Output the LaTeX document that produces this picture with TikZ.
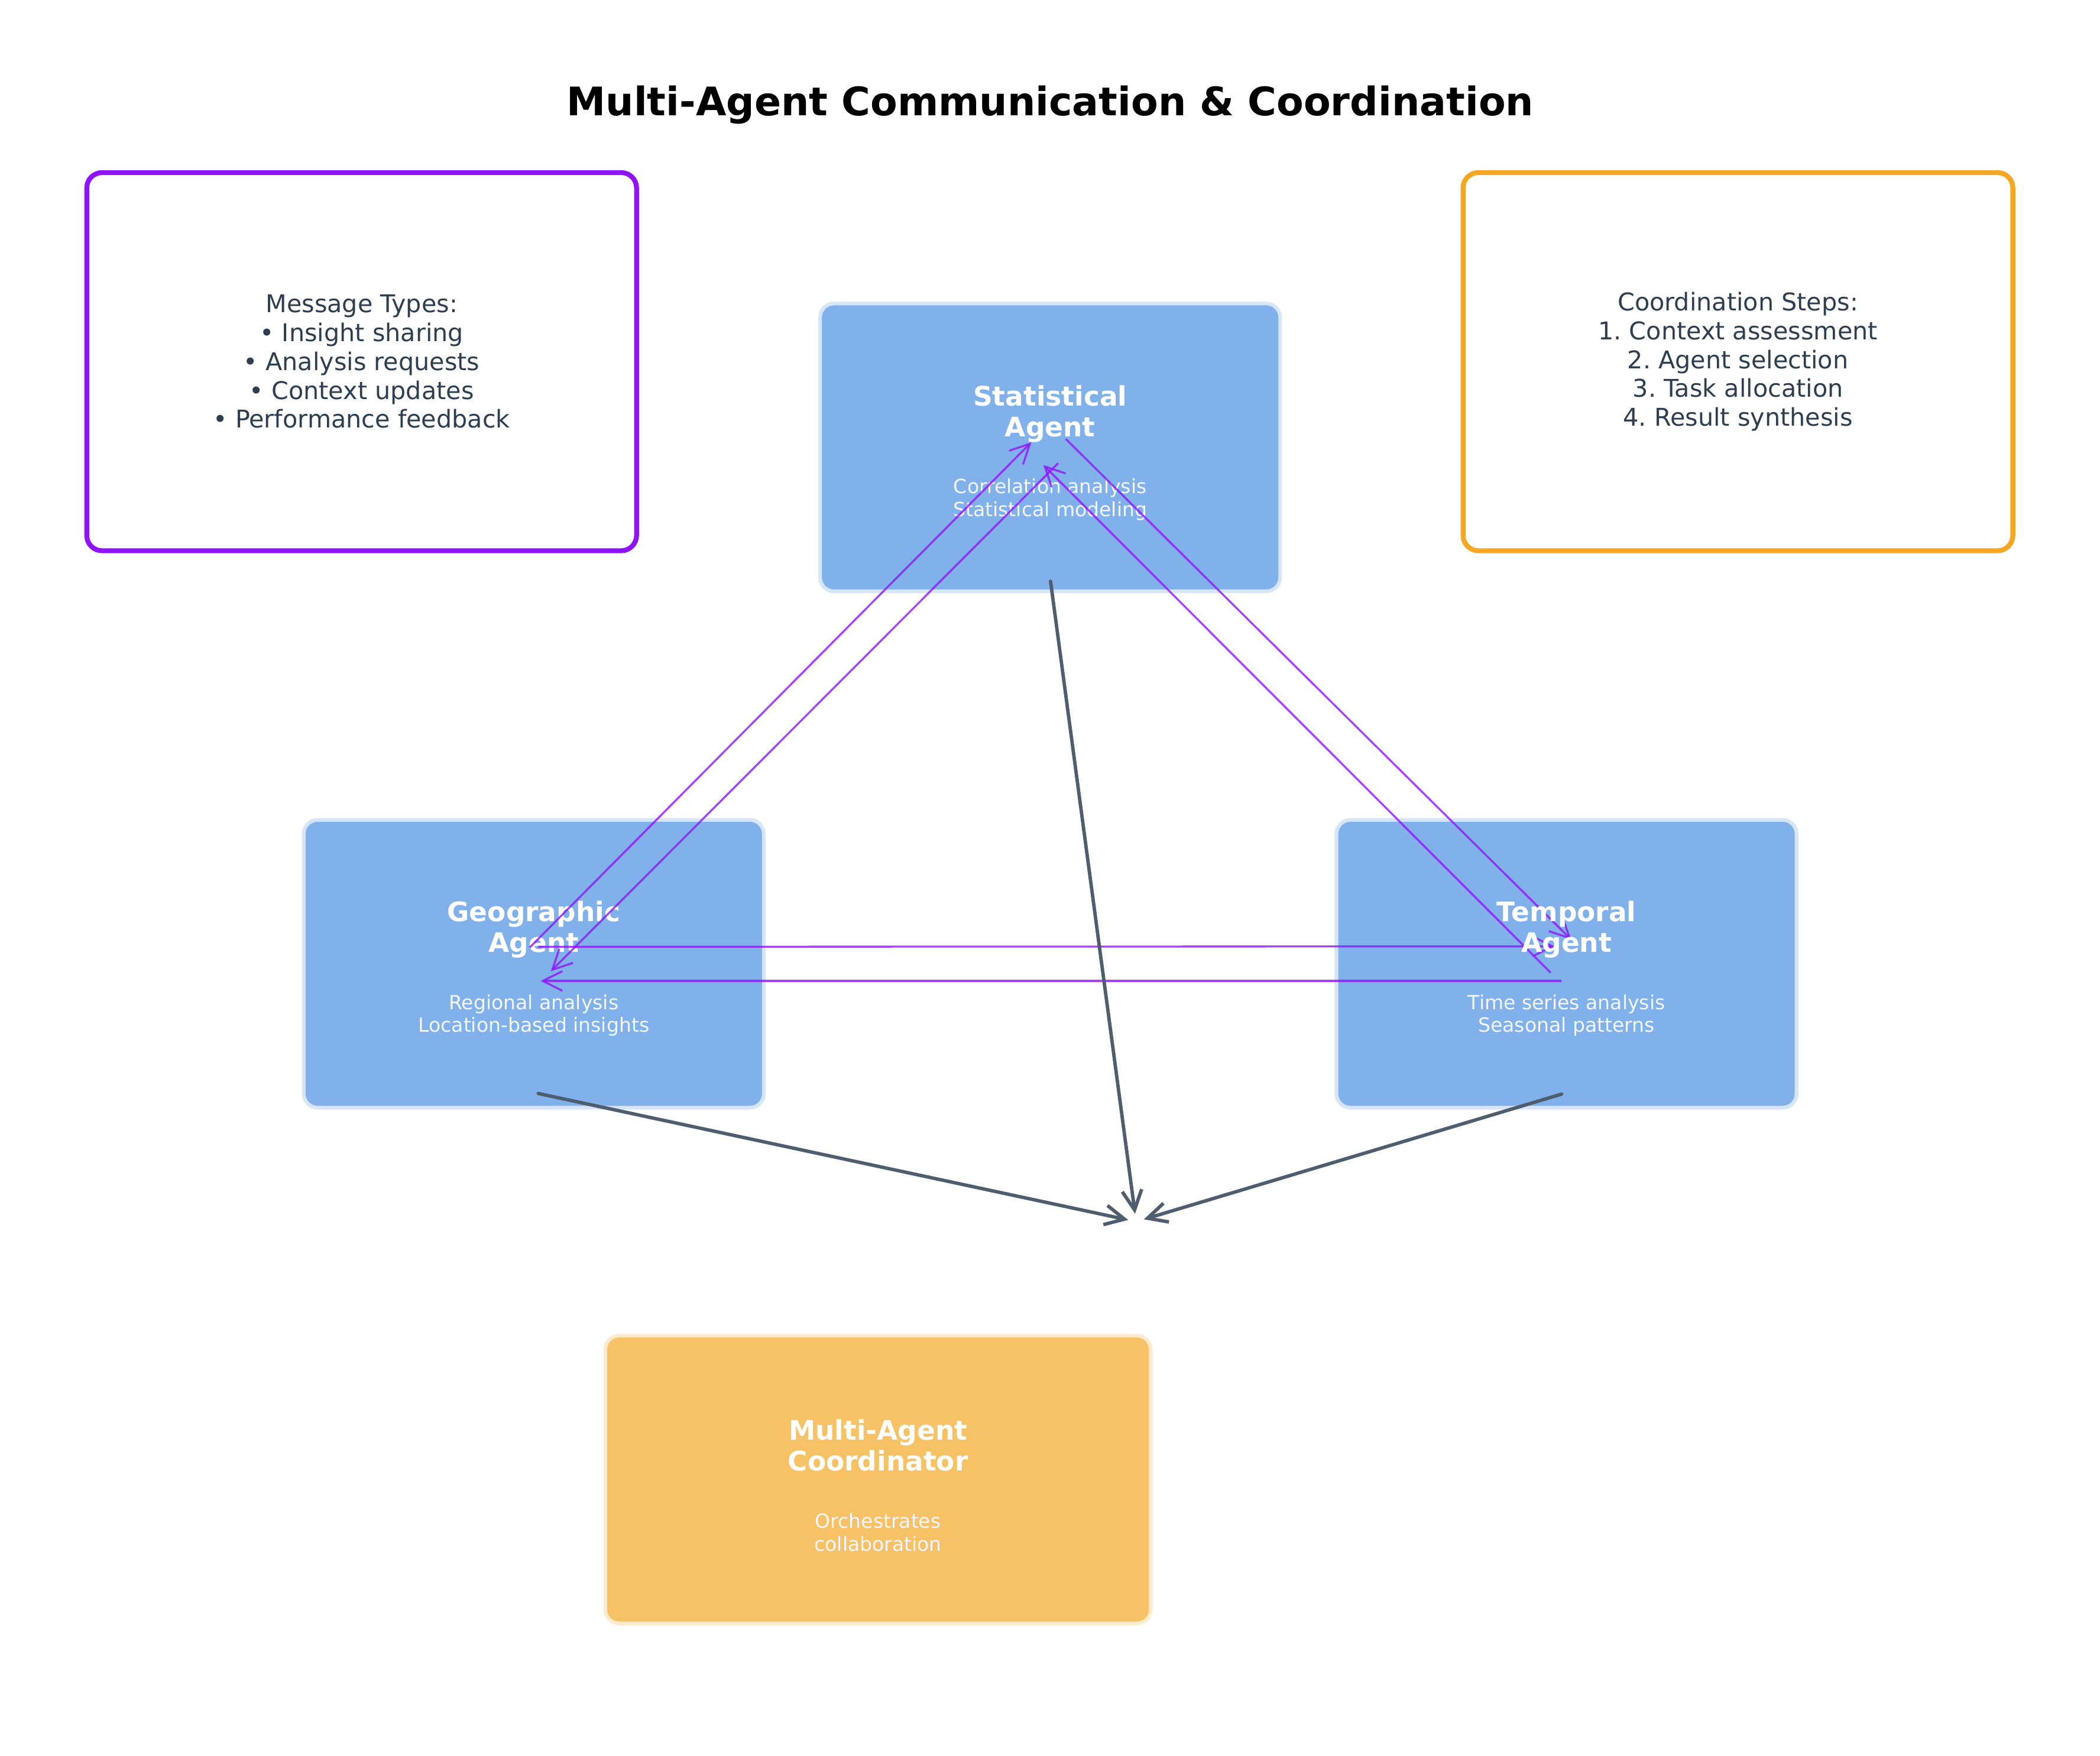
\documentclass[tikz,border=0pt]{standalone}
\usepackage{fontspec}
\setmainfont{DejaVu Sans}
\usetikzlibrary{arrows.meta}
\definecolor{msgpurple}{HTML}{9013FE}
\definecolor{steporange}{HTML}{F5A623}
\definecolor{agentblue}{HTML}{81B1EB}
\definecolor{agentedge}{HTML}{D6E5F7}
\definecolor{coordfill}{HTML}{F7C166}
\definecolor{coordedge}{HTML}{FCEBCF}
\definecolor{textdark}{HTML}{2C3E50}
\definecolor{linkgray}{HTML}{4F5E6E}
\frenchspacing
\begin{document}
\begin{tikzpicture}[x=0.019276cm,y=-0.019276cm,
    heading/.style={font=\fontsize{16.1}{19}\selectfont\bfseries},
    infobox/.style={draw,line width=2pt,rounded corners=0.22cm,fill=white,minimum width=7.91cm,minimum height=5.44cm,align=center,text=textdark,font=\fontsize{10}{11.8}\selectfont},
    agentbox/.style={draw=agentedge,line width=1.5pt,fill=agentblue,rounded corners=0.2cm,minimum width=6.62cm,minimum height=4.14cm},
    coordbox/.style={agentbox,draw=coordedge,fill=coordfill,minimum width=7.85cm},
    agentname/.style={align=center,text=white,font=\fontsize{11}{12.6}\selectfont\bfseries},
    agentnote/.style={align=center,text=white!90!agentblue,font=\fontsize{8}{9.3}\selectfont},
    msg/.style={-{Straight Barb[length=8pt,width=8pt]},msgpurple,draw opacity=0.8,line width=0.8pt},
    report/.style={-{Straight Barb[length=8pt,width=8pt]},linkgray,line width=1.4pt,line cap=round,shorten >=0.116cm}]
  \useasboundingbox (0,0) rectangle (1567.8,1310.9);
  \node[heading] (title) at (784,78.5) {Multi-Agent Communication \& Coordination};
  \node[infobox,draw=msgpurple] (msgtypes) at (270,270) {Message Types:\\• Insight sharing\\• Analysis requests\\• Context updates\\• Performance feedback};
  \node[infobox,draw=steporange] (steps) at (1297.5,270) {Coordination Steps:\\1. Context assessment\\2. Agent selection\\3. Task allocation\\4. Result synthesis};
  \node[agentbox] (stat) at (784,334) {};
  \node[agentbox] (geo) at (398.5,719.5) {};
  \node[agentbox] (temp) at (1169.5,719.5) {};
  \node[coordbox] (coord) at (655.5,1104.5) {};
  \node[agentname] (statname) at (784,309) {Statistical\\Agent};
  \node[agentnote] (statnote) at (784,373) {Correlation analysis\\Statistical modeling};
  \node[agentname] (geoname) at (398.5,694) {Geographic\\Agent};
  \node[agentnote] (geonote) at (398.5,758) {Regional analysis\\Location-based insights};
  \node[agentname] (coordname) at (655.5,1079) {Multi-Agent\\Coordinator};
  \node[agentnote] (coordnote) at (655.5,1144) {Orchestrates\\collaboration};
  \coordinate (hub) at (848.2,912);
  \draw[msg] ([shift={(-3,-12.2)}]geo.center) -- ([shift={(-14,-3.9)}]stat.center);
  \draw[msg] ([shift={(6,11.8)}]stat.center) -- ([shift={(12.7,5.6)}]geo.center);
  \draw[msg] ([shift={(11.7,-6.3)}]stat.center) -- ([shift={(3.5,-18.1)}]temp.center);
  \draw[msg] ([shift={(-11.8,6.7)}]temp.center) -- ([shift={(-5.1,13.1)}]stat.center);
  \draw[msg] ([shift={(3.3,-12.7)}]geo.center) -- ([shift={(-8.9,-13)}]temp.center);
  \draw[msg] ([shift={(-3.7,12.8)}]temp.center) -- ([shift={(5.1,12.8)}]geo.center);
  \node[agentname] (tempname) at (1169.5,694) {Temporal\\Agent};
  \node[agentnote] (tempnote) at (1169.5,758) {Time series analysis\\Seasonal patterns};
  \draw[report] ([shift={(0.3,99.9)}]stat.center) -- (hub);
  \draw[report] ([shift={(3.3,96.8)}]geo.center) -- (hub);
  \draw[report] ([shift={(-3.7,97.3)}]temp.center) -- (hub);
\end{tikzpicture}
\end{document}
